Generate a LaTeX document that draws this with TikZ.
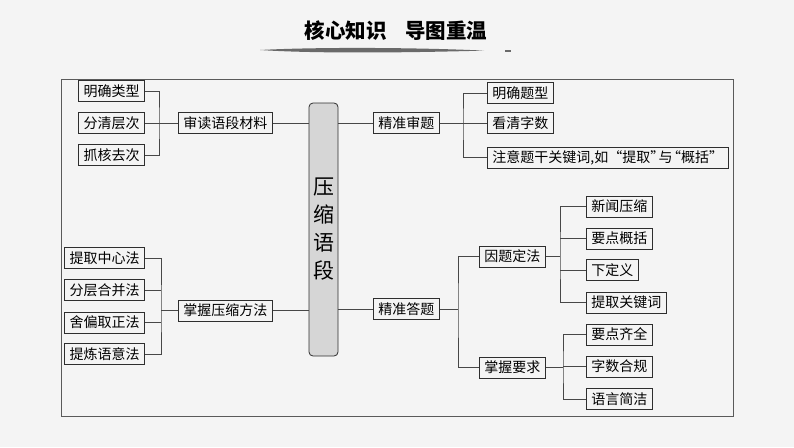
\documentclass[tikz,border=0pt]{standalone}
\usepackage{fontspec}
\setmainfont{Noto Sans CJK SC}
\usetikzlibrary{calc,shadows}
\definecolor{MapPaper}{HTML}{F4F4F4}
\definecolor{MapInk}{HTML}{2E2E2E}
\definecolor{MapLine}{HTML}{474747}
\definecolor{MapFrame}{HTML}{5A5A5A}
\definecolor{MapCore}{HTML}{D6D6D6}
\definecolor{MapBrush}{HTML}{6A6A6A}

\begin{document}
\begin{tikzpicture}[x=1pt,y=-1pt,
  leaf/.style={draw=MapInk,line width=0.7pt,fill=MapPaper,anchor=west,
    minimum height=21pt,inner xsep=5pt,inner ysep=0pt,
    font=\fontsize{14}{16}\selectfont,
    drop shadow={shadow xshift=0.8pt,shadow yshift=-0.8pt,fill=MapInk,opacity=0.85}},
  core/.style={draw=MapInk,line width=0.8pt,fill=MapCore,rounded corners=4pt,
    minimum width=29pt,minimum height=253pt,align=center,
    font=\fontsize{21}{28}\selectfont},
  link/.style={MapLine,line width=0.8pt}]
        \useasboundingbox (0,0) rectangle (794,447);
        \fill[MapPaper] (0,0) rectangle (794,447);

        % title and brush stroke
        \node[font=\fontsize{20.5}{22}\selectfont\bfseries] (title) at (396,31)
          {核心知识\hspace{0.9em}导图重温};
        \fill[MapBrush] (260,50) .. controls (320,46.8) and (420,47.6) .. (484,50.6)
          .. controls (420,52.4) and (320,54) .. (260,50) -- cycle;
        \fill[MapBrush] (505,50.2) rectangle (511,51.8);

        \draw[MapFrame,line width=0.8pt] (61,79) rectangle (733,416);

        \node[core] (core) at (323.5,229.5) {压\\缩\\语\\段};

        % left branches
        \node[leaf,anchor=east] (mqlx) at (145,91) {明确类型};
        \node[leaf,anchor=east] (fqcc) at (145,123) {分清层次};
        \node[leaf,anchor=east] (zhqc) at (145,155) {抓核去次};
        \node[leaf] (sdcl) at (178,123) {审读语段材料};

        \node[leaf,anchor=east] (tqzx) at (145,258) {提取中心法};
        \node[leaf,anchor=east] (fchb) at (145,290) {分层合并法};
        \node[leaf,anchor=east] (spqz) at (145,322.5) {舍偏取正法};
        \node[leaf,anchor=east] (tlyy) at (145,354) {提炼语意法};
        \node[leaf] (zwff) at (178,310.5) {掌握压缩方法};

        % right branches
        \node[leaf] (jzst) at (373,123) {精准审题};
        \node[leaf] (mqtx) at (487,93) {明确题型};
        \node[leaf] (kqzs) at (487,123) {看清字数};
        \node[leaf] (zygj) at (487,157.5)
          {注意题干关键词,如“提取”\hspace{-0.4em}与\hspace{-0.4em}“概括”\hspace{-0.35em}};

        \node[leaf] (jzdt) at (373,309) {精准答题};
        \node[leaf] (ytdf) at (479,256.5) {因题定法};
        \node[leaf] (zwyq) at (479,367.5) {掌握要求};
        \node[leaf] (xwys) at (586,206.5) {新闻压缩};
        \node[leaf] (ydgk) at (586,238.5) {要点概括};
        \node[leaf] (xdy) at (586,270) {下定义};
        \node[leaf] (tqgj) at (586,302.5) {提取关键词};
        \node[leaf] (ydqq) at (586,334.5) {要点齐全};
        \node[leaf] (zshg) at (586,366.5) {字数合规};
        \node[leaf] (yyjj) at (586,399) {语言简洁};

        % spines
        \coordinate (spL1) at (159,123);
        \coordinate (spL2) at (161,310.5);
        \coordinate (spR1) at (463,123);
        \coordinate (spR2) at (458,309);
        \coordinate (spR3) at (560,256.5);
        \coordinate (spR4) at (563,367.5);

        \draw[link] (mqlx.east) -| (spL1) |- (zhqc.east);
        \draw[link] (fqcc.east) -- (sdcl.west);
        \draw[link] (sdcl.east) -- (sdcl.east -| core.west);

        \draw[link] (tqzx.east) -| (spL2) |- (tlyy.east);
        \draw[link] (fchb.east) -- (fchb.east -| spL2);
        \draw[link] (spqz.east) -- (spqz.east -| spL2);
        \draw[link] (spL2) -- (zwff.west);
        \draw[link] (zwff.east) -- (zwff.east -| core.west);

        \draw[link] (core.east |- jzst.west) -- (jzst.west);
        \draw[link] (jzst.east) -- (kqzs.west);
        \draw[link] (mqtx.west) -| (spR1) |- (zygj.west);

        \draw[link] (core.east |- jzdt.west) -- (jzdt.west);
        \draw[link] (jzdt.east) -- (spR2);
        \draw[link] (ytdf.west) -| (spR2) |- (zwyq.west);

        \draw[link] (ytdf.east) -- (spR3);
        \draw[link] (xwys.west) -| (spR3) |- (tqgj.west);
        \draw[link] (ydgk.west) -- (ydgk.west -| spR3);
        \draw[link] (xdy.west) -- (xdy.west -| spR3);

        \draw[link] (zwyq.east) -- (spR4);
        \draw[link] (ydqq.west) -| (spR4) |- (yyjj.west);
        \draw[link] (zshg.west) -- (zshg.west -| spR4);
      \end{tikzpicture}
\end{document}
